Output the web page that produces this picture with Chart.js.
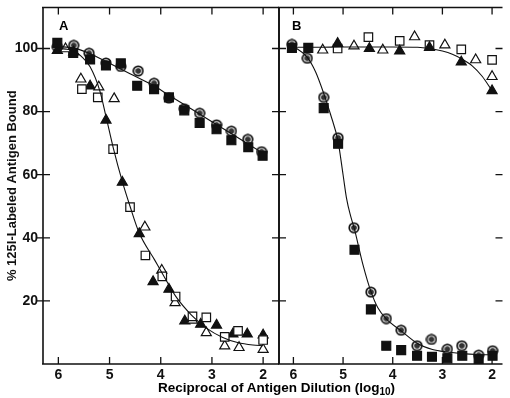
<!DOCTYPE html>
<html>
<head>
<meta charset="utf-8">
<script src="https://cdn.jsdelivr.net/npm/chart.js@4"></script>
<style>
  body { margin: 0; background: #fff; }
  #wrap { position: relative; width: 510px; height: 398px; overflow: hidden; font-family: "Liberation Sans", Arial, sans-serif; }
  canvas { position: absolute; top: 0; }
  #chartA { left: 0; }
  #chartB { left: 270px; }
  .panel { position: absolute; top: 18px; font-weight: bold; font-size: 13px; }
  #xtitle { position: absolute; left: 0; width: 553px; top: 380px; text-align: center; font-weight: bold; font-size: 13.5px; line-height: 16px; }
  #xtitle sub { font-size: 10px; vertical-align: -3px; }
</style>
</head>
<body>
<div id="wrap">
  <canvas id="chartA" width="290" height="398"></canvas>
  <canvas id="chartB" width="240" height="398"></canvas>
  <div class="panel" style="left:59px">A</div>
  <div class="panel" style="left:292px">B</div>
  <div id="xtitle">Reciprocal of Antigen Dilution (log<sub>10</sub>)</div>
</div>
<script>
// tick labels
const tickX = [6, 5, 4, 3, 2];
const tickY = [20, 40, 60, 80, 100];

// panel A : [log10 reciprocal dilution, % bound]
const aCircle = [[6.02,100.5],[5.70,101.0],[5.40,98.5],[5.07,95.4],[4.78,94.3],[4.44,92.9],[4.13,89.0],[3.84,84.3],[3.54,80.9],[3.24,79.5],[2.91,75.8],[2.62,73.8],[2.30,71.2],[2.03,67.3]];
const aSquareFilled = [[6.02,101.8],[5.71,98.6],[5.38,96.5],[5.07,94.6],[4.78,95.3],[4.46,88.2],[4.13,87.1],[3.84,84.5],[3.54,80.4],[3.24,76.4],[2.91,74.4],[2.62,70.9],[2.29,68.7],[2.01,66.0]];
const aTriFilled = [[6.02,99.4],[5.70,98.9],[5.38,88.1],[5.07,77.3],[4.75,57.6],[4.42,41.3],[4.15,26.1],[3.84,23.7],[3.53,13.6],[3.22,12.6],[2.91,12.3],[2.59,9.5],[2.31,9.5],[2.00,9.2]];
const aSquareOpen = [[5.54,87.1],[5.23,84.5],[4.93,68.1],[4.60,49.7],[4.30,34.4],[3.97,27.8],[3.71,21.4],[3.38,15.1],[3.11,14.8],[2.75,8.6],[2.49,10.5],[2.00,7.6]];
const aTriOpen = [[5.86,99.9],[5.56,90.3],[5.21,87.8],[4.91,84.1],[4.31,43.4],[3.98,29.7],[3.72,19.4],[3.38,13.9],[3.11,9.9],[2.75,5.7],[2.47,5.2],[2.00,4.6]];
const aUpperCurve = [[6.02,100.6],[5.70,100.2],[5.40,98.5],[5.00,95.3],[4.60,92.0],[4.20,88.8],[3.80,84.8],[3.40,80.8],[3.00,76.8],[2.60,72.8],[2.20,68.8],[2.00,66.8]];
const aLowerCurve = [[6.02,100],[5.85,99.8],[5.70,99.2],[5.55,97.5],[5.38,94.2],[5.19,86.6],[5.07,78.5],[4.93,68.7],[4.75,57.8],[4.60,50],[4.42,41.5],[4.12,33],[3.98,29],[3.71,21.5],[3.40,15.5],[3.10,11.3],[2.80,8.5],[2.50,6.8],[2.20,6.0],[2.00,5.8]];

// panel B
const bCircle = [[6.03,101.3],[5.72,96.9],[5.39,84.5],[5.10,71.7],[4.78,43.2],[4.44,22.8],[4.13,14.4],[3.83,10.7],[3.51,5.8],[3.22,7.8],[2.90,4.7],[2.61,5.8],[2.27,2.8],[1.99,4.2]];
const bSquareFilled = [[6.03,100.2],[5.70,100.2],[5.39,81.1],[5.10,69.8],[4.77,36.2],[4.44,17.3],[4.13,5.8],[3.83,4.4],[3.51,2.6],[3.21,2.3],[2.90,1.8],[2.60,2.6],[2.27,1.5],[1.99,2.6]];
const bTriFilled = [[5.11,101.6],[4.47,100.0],[3.86,99.2],[3.26,100.3],[2.62,95.7],[2.00,86.6]];
const bTriOpen = [[5.41,99.5],[4.78,100.8],[4.20,99.5],[3.56,103.7],[2.95,101.1],[2.33,96.4],[2.00,91.1]];
const bSquareOpen = [[5.11,100.0],[4.49,103.6],[3.86,102.4],[3.26,101.1],[2.62,99.7],[2.00,96.4]];
const bFlatCurve = [[6.03,100.4],[5.50,100.4],[5.00,100.5],[4.50,100.5],[4.00,100.5],[3.50,100.4],[3.26,100.0],[3.00,99.2],[2.80,98.2],[2.62,96.8],[2.40,94.5],[2.20,91.2],[2.00,86.6]];
const bSteepCurve = [[6.03,101],[5.72,97.2],[5.55,92.5],[5.39,85.8],[5.25,79],[5.10,70.5],[5.00,60],[4.93,52.5],[4.85,47],[4.78,43.3],[4.60,31.5],[4.44,23],[4.30,17.8],[4.13,14.3],[3.83,10.5],[3.50,6.5],[3.20,4.6],[2.90,3.8],[2.60,3.3],[2.30,3.0],[2.00,2.9]];

const FONT = '"Liberation Sans", Arial, sans-serif';
const pts = arr => arr.map(p => ({ x: p[0], y: p[1] }));

// dotted circle marker
function bullseye() {
	const c = document.createElement('canvas');
	c.width = 12; c.height = 12;
	const g = c.getContext('2d');
	g.fillStyle = '#111';
	g.beginPath(); g.arc(6, 6, 5.6, 0, Math.PI * 2); g.fill();
	g.strokeStyle = '#fff'; g.lineWidth = 1.1;
	g.beginPath(); g.arc(6, 6, 3.3, 0, Math.PI * 2); g.stroke();
	g.fillStyle = '#333';
	g.beginPath(); g.arc(6, 6, 2.3, 0, Math.PI * 2); g.fill();
	return c;
}
const dotCircle = bullseye();

function curve(arr) {
	return { data: pts(arr), showLine: true, pointRadius: 0, borderColor: '#111', borderWidth: 1.1, cubicInterpolationMode: 'monotone', fill: false };
}
function marks(arr, style) {
	const d = { data: pts(arr), showLine: false, borderColor: '#111', borderWidth: 1.2, pointHoverRadius: 0 };
	if (style === 'circle') { d.pointStyle = dotCircle; d.pointRadius = 6; }
	if (style === 'sqFill') { d.pointStyle = 'rect'; d.pointRadius = 6.3; d.backgroundColor = '#111'; }
	if (style === 'sqOpen') { d.pointStyle = 'rect'; d.pointRadius = 6; d.backgroundColor = '#fff'; }
	if (style === 'triFill') { d.pointStyle = 'triangle'; d.pointRadius = 5.8; d.backgroundColor = '#111'; }
	if (style === 'triOpen') { d.pointStyle = 'triangle'; d.pointRadius = 5.8; d.backgroundColor = '#fff'; }
	return d;
}

// frame and ticks on the chart area edges
const framePlugin = {
	id: 'frame',
	beforeDatasetsDraw(chart, args, opts) {
		const { ctx, chartArea: a, scales: { x, y } } = chart;
		ctx.save();
		ctx.strokeStyle = '#111';
		ctx.lineWidth = 1.6;
		ctx.beginPath();
		ctx.moveTo(a.left - 1, a.top); ctx.lineTo(a.right, a.top);
		ctx.moveTo(a.left - 1, a.bottom); ctx.lineTo(a.right, a.bottom);
		if (opts.left) { ctx.moveTo(a.left, a.top); ctx.lineTo(a.left, a.bottom); }
		if (opts.right === 'cross') { ctx.moveTo(a.right, a.top); ctx.lineTo(a.right, a.bottom); }
		ctx.stroke();

		ctx.lineWidth = 1.3;
		ctx.beginPath();
		tickX.forEach(v => {
			const px = x.getPixelForValue(v);
			ctx.moveTo(px, a.top); ctx.lineTo(px, a.top + 7);
			ctx.moveTo(px, a.bottom); ctx.lineTo(px, a.bottom - 7);
		});
		tickY.forEach(v => {
			const py = y.getPixelForValue(v);
			if (opts.left === 'cross') { ctx.moveTo(a.left - 6, py); ctx.lineTo(a.left + 7, py); }
			if (opts.right === 'cross') { ctx.moveTo(a.right - 7, py); ctx.lineTo(a.right + 7, py); }
			if (opts.right === 'in') { ctx.moveTo(a.right - 7, py); ctx.lineTo(a.right, py); }
		});
		ctx.stroke();
		ctx.restore();
	}
};

function xScale(min, max) {
	return {
		type: 'linear', reverse: true, min: min, max: max,
		afterBuildTicks: s => { s.ticks = tickX.map(v => ({ value: v })); },
		afterFit: s => { s.height = 34; s.paddingLeft = 0; s.paddingRight = 0; },
		grid: { display: false, drawTicks: false },
		border: { display: false },
		ticks: { color: '#111', font: { family: FONT, size: 14, weight: 'bold' }, padding: 3 }
	};
}

function makeChart(id, datasets, xMin, xMax, padding, showY, frameOpts) {
	return new Chart(document.getElementById(id), {
		type: 'scatter',
		data: { datasets: datasets },
		options: {
			responsive: false,
			animation: false,
			layout: { padding: padding },
			plugins: { legend: { display: false }, tooltip: { enabled: false }, frame: frameOpts },
			scales: {
				x: xScale(xMin, xMax),
				y: {
					type: 'linear', min: 0, max: 113, display: showY,
					afterBuildTicks: s => { s.ticks = tickY.map(v => ({ value: v })); },
					afterFit: s => { s.width = showY ? 43 : 0; s.paddingTop = 0; s.paddingBottom = 0; },
					grid: { display: false, drawTicks: false },
					border: { display: false },
					ticks: { color: '#111', font: { family: FONT, size: 14, weight: 'bold' }, padding: 5 },
					title: { display: true, text: '% 125I-Labeled Antigen Bound', color: '#111', font: { family: FONT, size: 13, weight: 'bold' }, padding: { top: 5, bottom: 0 } }
				}
			}
		},
		plugins: [framePlugin]
	});
}

makeChart('chartA', [
	curve(aUpperCurve),
	curve(aLowerCurve),
	marks(aSquareOpen, 'sqOpen'),
	marks(aTriOpen, 'triOpen'),
	marks(aTriFilled, 'triFill'),
	marks(aSquareFilled, 'sqFill'),
	marks(aCircle, 'circle')
], 1.69, 6.30, { top: 6, right: 11, left: 0, bottom: 0 }, true, { left: 'cross', right: 'cross' });

makeChart('chartB', [
	curve(bFlatCurve),
	curve(bSteepCurve),
	marks(bSquareFilled, 'sqFill'),
	marks(bCircle, 'circle'),
	marks(bTriFilled, 'triFill'),
	marks(bSquareOpen, 'sqOpen'),
	marks(bTriOpen, 'triOpen')
], 1.79, 6.29, { top: 6, right: 2, left: 9, bottom: 0 }, false, { left: 'line', right: 'in' });
</script>
</body>
</html>
